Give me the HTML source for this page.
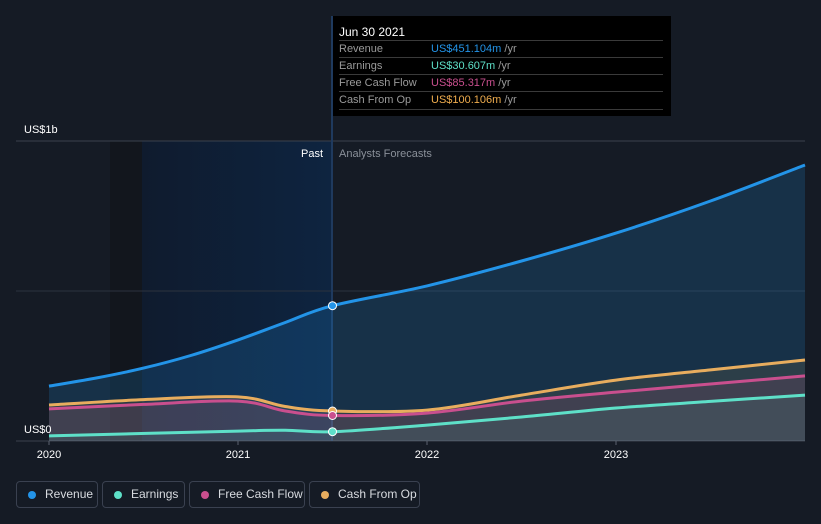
<!DOCTYPE html>
<html><head><meta charset="utf-8"><style>
body{margin:0;background:#151b25;font-family:"Liberation Sans",sans-serif;}
#wrap{position:relative;width:821px;height:524px;overflow:hidden;background:#151b25}
.leg{position:absolute;top:481px;height:27px;border:1px solid #3a4150;border-radius:4px;color:#d8dbe0;font-size:12px;line-height:25px;box-sizing:border-box;padding-left:28px}
.leg i{position:absolute;left:11px;top:9px;width:8px;height:8px;border-radius:50%}
.tt{position:absolute;left:333px;top:16px;width:338px;height:100px;background:#000;color:#fff;font-size:11px}
.row{position:absolute;left:6px;width:324px;border-top:1px solid #3a3a3a;height:17px;line-height:17px;color:#9a9a9a}
.row span{position:absolute;left:92px}
</style></head><body>
<div id="wrap">
<svg id="svg" width="821" height="524" style="position:absolute;left:0;top:0"></svg>
<div class="tt">
 <div style="position:absolute;left:6px;top:9px;font-size:12px">Jun 30 2021</div>
 <div class="row" style="top:24px">Revenue<span><b style="font-weight:normal;color:#2394e8">US$451.104m</b> /yr</span></div>
 <div class="row" style="top:41px">Earnings<span><b style="font-weight:normal;color:#5ee0c8">US$30.607m</b> /yr</span></div>
 <div class="row" style="top:58px">Free Cash Flow<span><b style="font-weight:normal;color:#c94f8e">US$85.317m</b> /yr</span></div>
 <div class="row" style="top:75px;border-bottom:1px solid #3a3a3a">Cash From Op<span><b style="font-weight:normal;color:#f0ad4e">US$100.106m</b> /yr</span></div>
</div>
<div class="leg" style="left:16px;width:82px"><i style="background:#2394e8"></i>Revenue</div>
<div class="leg" style="left:102px;width:83px"><i style="background:#5ee0c8"></i>Earnings</div>
<div class="leg" style="left:189px;width:116px"><i style="background:#c94f8e"></i>Free Cash Flow</div>
<div class="leg" style="left:309px;width:111px"><i style="background:#e8ad5e"></i>Cash From Op</div>
</div>
<script>
const revX=[2020,2020.25,2020.5,2020.75,2021,2021.25,2021.5,2022,2022.5,2023,2023.5,2024];
const revY=[0.183,0.21,0.243,0.285,0.337,0.395,0.451,0.517,0.6,0.693,0.8,0.92];
const earnX=[2020,2021,2021.25,2021.5,2022,2022.5,2023,2023.5,2024];
const earnY=[0.017,0.033,0.036,0.031,0.053,0.08,0.11,0.132,0.153];
const fcfX=[2020,2020.5,2021,2021.25,2021.5,2022,2022.5,2023,2023.5,2024];
const fcfY=[0.107,0.122,0.133,0.1,0.085,0.093,0.133,0.163,0.19,0.217];
const cfoX=[2020,2020.5,2021,2021.25,2021.5,2022,2022.5,2023,2023.5,2024];
const cfoY=[0.12,0.138,0.147,0.115,0.1,0.103,0.153,0.203,0.237,0.27];
const yTicks=["US$0","US$1b"];
const xTicks=["2020","2021","2022","2023"];
const xs=t=>49+(t-2020)*189, ys=v=>441-v*300;
const NS="http://www.w3.org/2000/svg", svg=document.getElementById('svg');
function el(tag,a,txt){const e=document.createElementNS(NS,tag);for(const k in a)e.setAttribute(k,a[k]);if(txt)e.textContent=txt;svg.appendChild(e);return e;}
function path(X,Y){const p=X.map((x,i)=>[xs(x),ys(Y[i])]);let d="M"+p[0];for(let i=0;i<p.length-1;i++){const a=p[Math.max(i-1,0)],b=p[i],c=p[i+1],e=p[Math.min(i+2,p.length-1)];const c1=[b[0]+(c[0]-a[0])/6,b[1]+(c[1]-a[1])/6],c2=[c[0]-(e[0]-b[0])/6,c[1]-(e[1]-b[1])/6];d+=" C"+c1+" "+c2+" "+c;}return d;}
const d1=el('defs',{});
d1.innerHTML='<linearGradient id="pg" x1="0" x2="1"><stop offset="0" stop-color="#0f1b2e"/><stop offset="1" stop-color="#0e2440"/></linearGradient>';
let r=el('rect',{x:110,y:141,width:32,height:300,fill:'#12161d'});
r=el('rect',{x:142,y:141,width:190,height:300,fill:'url(#pg)'});
let g=el('line',{x1:16,x2:805,y1:141,y2:141,stroke:'#3a414d'});
g=el('line',{x1:16,x2:805,y1:291,y2:291,stroke:'#2c333e'});
g=el('line',{x1:16,x2:805,y1:441,y2:441,stroke:'#3a414d'});
g=el('line',{x1:332,x2:332,y1:16,y2:441,stroke:'#1f3a5e',"stroke-width":2});
const series=[[revX,revY,'#2394e8','revenue','rgba(35,148,232,0.18)'],[cfoX,cfoY,'#e8ad5e','cash-from-op','rgba(240,173,78,0.1)'],[fcfX,fcfY,'#c94f8e','free-cash-flow','rgba(214,79,142,0.12)'],[earnX,earnY,'#5ee0c8','earnings','rgba(94,224,200,0.08)']];
series.forEach(([X,Y,c,n,f])=>{
 let a=el('path',{d:path(X,Y)+` L${xs(X[X.length-1])},441 L${xs(X[0])},441Z`,fill:f});
 let l=el('path',{d:path(X,Y),fill:'none',stroke:c,"stroke-width":3});
 const i=X.indexOf(2021.5);
 let p=el('circle',{cx:xs(2021.5),cy:ys(Y[i]),r:4,fill:c,stroke:'#fff',"stroke-width":1});
});
let t=el('text',{x:24,y:133,fill:'#fff',"font-size":11},yTicks[1]);
t=el('text',{x:24,y:433,fill:'#fff',"font-size":11},yTicks[0]);
xTicks.forEach((s,i)=>{const x=xs(2020+i);let k=el('line',{x1:x,x2:x,y1:441,y2:445,stroke:'#5a6270'});
 let tx=el('text',{x:x,y:458,fill:'#fff',"font-size":11,"text-anchor":"middle"},s);});
t=el('text',{x:323,y:157,fill:'#fff',"font-size":11,"text-anchor":"end"},'Past');
t=el('text',{x:339,y:157,fill:'#8a9099',"font-size":11},'Analysts Forecasts');
</script>
</body></html>
